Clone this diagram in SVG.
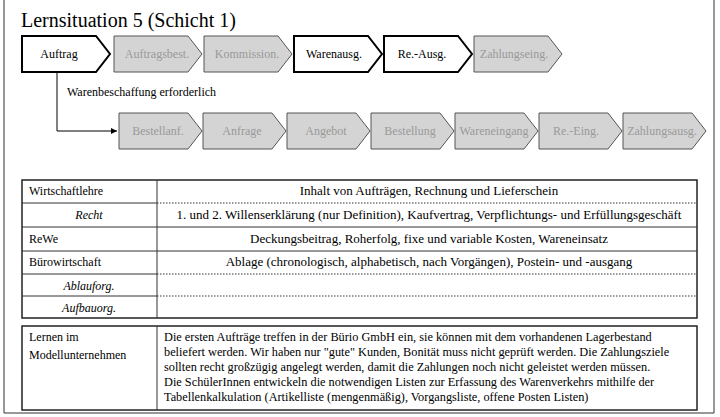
<svg xmlns="http://www.w3.org/2000/svg" width="720" height="417" viewBox="0 0 720 417">
<defs>
<style>
text{font-family:"Liberation Serif","Times New Roman",serif;font-size:12px;fill:#000}
.t{font-size:20px}
.r{font-size:13px}
.p{font-size:12.3px}
.g text{fill:#999}
.g polygon{fill:#d4d4d4;stroke:#555;stroke-width:1}
.w polygon{fill:#fff;stroke:#000;stroke-width:2}
.c{stroke:#000;stroke-width:1;fill:none}
.b{stroke:#222;stroke-width:1.5;fill:none}
.d{stroke:#333;stroke-width:1;stroke-dasharray:1.5 1.5}
.s{stroke:#333;stroke-width:1}
.i{font-style:italic}
</style>
<marker id="ar" viewBox="0 0 10 10" refX="10" refY="5" markerWidth="6" markerHeight="6" orient="auto"><path d="M0,0L10,5L0,10z" fill="#000"/></marker>
</defs>
<rect width="720" height="417" fill="#fff"/>
<path d="M4,0V413H714V0" class="s" fill="none"/>
<text class="t" x="21" y="27">Lernsituation 5 (Schicht 1)</text>
<g id="n1" class="w"><polygon points="22,36 96,36 110,54 96,72 22,72"/><text x="59" y="58" text-anchor="middle">Auftrag</text></g>
<g id="n2" class="g"><polygon points="114,36 188,36 202,54 188,72 114,72"/><text x="157" y="58" text-anchor="middle">Auftragsbest.</text></g>
<g id="n3" class="g"><polygon points="204,36 278,36 292,54 278,72 204,72"/><text x="247" y="58" text-anchor="middle">Kommission.</text></g>
<g id="n4" class="w"><polygon points="294,36 368,36 382,54 368,72 294,72"/><text x="334" y="58" text-anchor="middle">Warenausg.</text></g>
<g id="n5" class="w"><polygon points="384,36 458,36 472,54 458,72 384,72"/><text x="422" y="58" text-anchor="middle">Re.-Ausg.</text></g>
<g id="n6" class="g"><polygon points="474,36 548,36 562,54 548,72 474,72"/><text x="514" y="58" text-anchor="middle">Zahlungseing.</text></g>
<g id="b1" class="g"><polygon points="119,113 188,113 202,131 188,149 119,149"/><text x="158" y="135" text-anchor="middle">Bestellanf.</text></g>
<g id="b2" class="g"><polygon points="203,113 272,113 286,131 272,149 203,149"/><text x="242" y="135" text-anchor="middle">Anfrage</text></g>
<g id="b3" class="g"><polygon points="287,113 356,113 370,131 356,149 287,149"/><text x="326" y="135" text-anchor="middle">Angebot</text></g>
<g id="b4" class="g"><polygon points="371,113 440,113 454,131 440,149 371,149"/><text x="410" y="135" text-anchor="middle">Bestellung</text></g>
<g id="b5" class="g"><polygon points="455,113 524,113 538,131 524,149 455,149"/><text x="494" y="135" text-anchor="middle">Wareneingang</text></g>
<g id="b6" class="g"><polygon points="539,113 608,113 622,131 608,149 539,149"/><text x="576" y="135" text-anchor="middle">Re.-Eing.</text></g>
<g id="b7" class="g"><polygon points="623,113 692,113 706,131 692,149 623,149"/><text x="662" y="135" text-anchor="middle">Zahlungsausg.</text></g>
<g id="connectors"><path d="M57,73V131H117" class="c" marker-end="url(#ar)"/></g>
<text x="67" y="96">Warenbeschaffung erforderlich</text>
<g id="table1">
<rect x="22" y="180" width="675" height="138" class="b"/>
<line x1="157" y1="180" x2="157" y2="318" class="s"/>
<line x1="22" y1="203" x2="157" y2="203" class="s"/><line x1="157" y1="203" x2="697" y2="203" class="d"/>
<line x1="22" y1="227" x2="697" y2="227" class="s"/>
<line x1="22" y1="251" x2="697" y2="251" class="s"/>
<line x1="22" y1="274" x2="157" y2="274" class="s"/><line x1="157" y1="274" x2="697" y2="274" class="d"/>
<line x1="22" y1="296" x2="157" y2="296" class="s"/><line x1="157" y1="296" x2="697" y2="296" class="d"/>
<text x="29" y="195">Wirtschaftlehre</text>
<text x="89" y="219" class="i" text-anchor="middle">Recht</text>
<text x="29" y="243">ReWe</text>
<text x="29" y="266">Bürowirtschaft</text>
<text x="89" y="290" class="i" text-anchor="middle">Ablauforg.</text>
<text x="89" y="312" class="i" text-anchor="middle">Aufbauorg.</text>
<text class="r" x="429" y="195" text-anchor="middle">Inhalt von Aufträgen, Rechnung und Lieferschein</text>
<text class="r" x="429" y="219" text-anchor="middle">1. und 2.  Willenserklärung (nur Definition), Kaufvertrag, Verpflichtungs- und Erfüllungsgeschäft</text>
<text class="r" x="429" y="243" text-anchor="middle">Deckungsbeitrag, Roherfolg, fixe und variable Kosten, Wareneinsatz</text>
<text class="r" x="429" y="266" text-anchor="middle">Ablage (chronologisch, alphabetisch, nach Vorgängen),  Postein- und -ausgang</text>
</g>
<g id="table2">
<rect x="22" y="326" width="675" height="84" class="b"/>
<line x1="157" y1="326" x2="157" y2="410" class="s"/>
<text x="29" y="341">Lernen im</text>
<text x="29" y="359">Modellunternehmen</text>
<text class="p" x="164" y="341">Die ersten Aufträge treffen in der Bürio GmbH ein, sie können mit dem vorhandenen Lagerbestand</text>
<text class="p" x="164" y="356">beliefert werden. Wir haben nur "gute" Kunden, Bonität muss nicht geprüft werden. Die Zahlungsziele</text>
<text class="p" x="164" y="371">sollten recht großzügig angelegt werden, damit die Zahlungen noch nicht geleistet werden müssen.</text>
<text class="p" x="164" y="386">Die SchülerInnen entwickeln die notwendigen Listen zur Erfassung des Warenverkehrs mithilfe der</text>
<text class="p" x="164" y="401">Tabellenkalkulation (Artikelliste (mengenmäßig), Vorgangsliste, offene Posten Listen)</text>
</g>
</svg>
